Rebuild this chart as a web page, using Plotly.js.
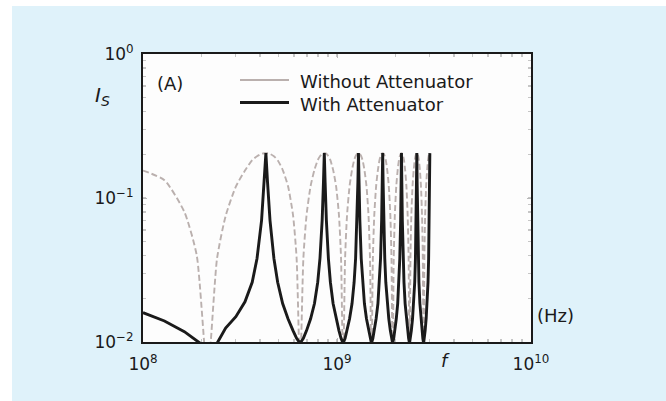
<!DOCTYPE html>
<html>
<head>
<meta charset="utf-8">
<script src="https://cdn.plot.ly/plotly-3.0.1.min.js"></script>
<style>
  html, body { margin: 0; padding: 0; background: #ffffff; }
  #chart { position: absolute; left: 12px; top: 6px; width: 654px; height: 395px; }
</style>
</head>
<body>
<div id="chart"></div>
<script>
// Frequency samples (Hz)
const freq = [
  1.000e8, 1.290e8, 1.634e8, 1.892e8, 2.150e8, 2.408e8, 2.666e8, 3.010e8, 3.354e8, 3.655e8, 3.870e8, 4.085e8, 4.214e8,
  4.300e8, 4.386e8, 4.515e8, 4.730e8, 4.945e8, 5.246e8, 5.590e8, 5.934e8, 6.192e8, 6.450e8, 6.708e8, 6.966e8, 7.310e8, 7.654e8, 7.955e8, 8.170e8, 8.385e8, 8.514e8,
  8.600e8, 8.686e8, 8.815e8, 9.030e8, 9.245e8, 9.546e8, 9.890e8, 1.0234e9, 1.0492e9, 1.0750e9, 1.1008e9, 1.1266e9, 1.1610e9, 1.1954e9, 1.2255e9, 1.2470e9, 1.2685e9, 1.2814e9,
  1.2900e9, 1.2986e9, 1.3115e9, 1.3330e9, 1.3545e9, 1.3846e9, 1.4190e9, 1.4534e9, 1.4792e9, 1.5050e9, 1.5308e9, 1.5566e9, 1.5910e9, 1.6254e9, 1.6555e9, 1.6770e9, 1.6985e9, 1.7114e9,
  1.7200e9, 1.7286e9, 1.7415e9, 1.7630e9, 1.7845e9, 1.8146e9, 1.8490e9, 1.8834e9, 1.9092e9, 1.9350e9, 1.9608e9, 1.9866e9, 2.0210e9, 2.0554e9, 2.0855e9, 2.1070e9, 2.1285e9, 2.1414e9,
  2.1500e9, 2.1586e9, 2.1715e9, 2.1930e9, 2.2145e9, 2.2446e9, 2.2790e9, 2.3134e9, 2.3392e9, 2.3650e9, 2.3908e9, 2.4166e9, 2.4510e9, 2.4854e9, 2.5155e9, 2.5370e9, 2.5585e9, 2.5714e9,
  2.5800e9, 2.5886e9, 2.6015e9, 2.6230e9, 2.6445e9, 2.6746e9, 2.7090e9, 2.7434e9, 2.7692e9, 2.7950e9, 2.8208e9, 2.8466e9, 2.8810e9, 2.9154e9, 2.9455e9, 2.9670e9, 2.9885e9, 3.0014e9,
  3.0100e9
];

// "Without Attenuator" (grey) values
const withoutAtt = [
  0.155, 0.133, 0.080, 0.040, 0.006, 0.038, 0.075, 0.120, 0.155, 0.183, 0.195, 0.2025, 0.2046,
  0.205, 0.2046, 0.2025, 0.195, 0.183, 0.157, 0.121, 0.076, 0.038, 0.006, 0.038, 0.076, 0.121, 0.157, 0.183, 0.195, 0.2025, 0.2046,
  0.205, 0.2046, 0.2025, 0.195, 0.183, 0.157, 0.121, 0.076, 0.038, 0.006, 0.038, 0.076, 0.121, 0.157, 0.183, 0.195, 0.2025, 0.2046,
  0.205, 0.2046, 0.2025, 0.195, 0.183, 0.157, 0.121, 0.076, 0.038, 0.006, 0.038, 0.076, 0.121, 0.157, 0.183, 0.195, 0.2025, 0.2046,
  0.205, 0.2046, 0.2025, 0.195, 0.183, 0.157, 0.121, 0.076, 0.038, 0.006, 0.038, 0.076, 0.121, 0.157, 0.183, 0.195, 0.2025, 0.2046,
  0.205, 0.2046, 0.2025, 0.195, 0.183, 0.157, 0.121, 0.076, 0.038, 0.006, 0.038, 0.076, 0.121, 0.157, 0.183, 0.195, 0.2025, 0.2046,
  0.205, 0.2046, 0.2025, 0.195, 0.183, 0.157, 0.121, 0.076, 0.038, 0.006, 0.038, 0.076, 0.121, 0.157, 0.183, 0.195, 0.2025, 0.2046,
  0.205
];

// "With Attenuator" (black) values
const withAtt = [
  0.0160, 0.0140, 0.0118, 0.0102, 0.0090, 0.0098, 0.0125, 0.0150, 0.0190, 0.026, 0.038, 0.070, 0.128,
  0.205, 0.128, 0.070, 0.038, 0.026, 0.0185, 0.0145, 0.0120, 0.0106, 0.0098, 0.0106, 0.0120, 0.0145, 0.0185, 0.026, 0.038, 0.070, 0.128,
  0.205, 0.128, 0.070, 0.038, 0.026, 0.0185, 0.0145, 0.0120, 0.0106, 0.0098, 0.0106, 0.0120, 0.0145, 0.0185, 0.026, 0.038, 0.070, 0.128,
  0.205, 0.128, 0.070, 0.038, 0.026, 0.0185, 0.0145, 0.0120, 0.0106, 0.0098, 0.0106, 0.0120, 0.0145, 0.0185, 0.026, 0.038, 0.070, 0.128,
  0.205, 0.128, 0.070, 0.038, 0.026, 0.0185, 0.0145, 0.0120, 0.0106, 0.0098, 0.0106, 0.0120, 0.0145, 0.0185, 0.026, 0.038, 0.070, 0.128,
  0.205, 0.128, 0.070, 0.038, 0.026, 0.0185, 0.0145, 0.0120, 0.0106, 0.0098, 0.0106, 0.0120, 0.0145, 0.0185, 0.026, 0.038, 0.070, 0.128,
  0.205, 0.128, 0.070, 0.038, 0.026, 0.0185, 0.0145, 0.0120, 0.0106, 0.0098, 0.0106, 0.0120, 0.0145, 0.0185, 0.026, 0.038, 0.070, 0.128,
  0.205
];

const seriesNames = ["Without Attenuator", "With Attenuator"];
const xTickVals = [1e8, 1e9, 1e10];
const xTickText = ["10<sup>8</sup>", "10<sup>9</sup>", "10<sup>10</sup>"];
const yTickVals = [1e-2, 1e-1, 1e0];
const yTickText = ["10<sup>\u22122</sup>", "10<sup>\u22121</sup>", "10<sup>0</sup>"];

const FONT = "DejaVu Sans, Verdana, sans-serif";
const TXT = "#1a1a1a";
const GREY = "#bab0ae";
const BLACK = "#1a1a1a";

const traces = [
  {
    x: freq, y: withoutAtt, name: seriesNames[0], type: "scatter", mode: "lines",
    line: { color: GREY, width: 1.9, dash: "6px,3px", shape: "spline", smoothing: 0.6 }
  },
  {
    x: freq, y: withAtt, name: seriesNames[1], type: "scatter", mode: "lines",
    line: { color: BLACK, width: 2.9 }
  }
];

const axisCommon = {
  type: "log",
  showgrid: false,
  zeroline: false,
  showline: true,
  linecolor: "#1a1a1a",
  linewidth: 2,
  mirror: "allticks",
  ticks: "inside",
  ticklen: 4,
  tickcolor: "#b8b8b8",
  tickfont: { family: FONT, size: 17, color: TXT },
  minor: { ticks: "inside", ticklen: 3, dtick: "D1", tickcolor: "#c6c6c6", tickwidth: 1.5, showgrid: false }
};

// paper coordinates helpers for plot area (x: 143..531 px, y: 54..342 px)
const px = v => (v - 143) / 388;
const py = v => (342 - v) / 288;

const layout = {
  width: 654, height: 395,
  paper_bgcolor: "#dff2fa",
  plot_bgcolor: "#fdfdfd",
  margin: { l: 131, r: 135, t: 48, b: 59 },
  showlegend: false,
  xaxis: Object.assign({}, axisCommon, {
    range: [8, 10],
    tickmode: "array", tickvals: xTickVals, ticktext: xTickText,
    ticklabelstandoff: 6
  }),
  yaxis: Object.assign({}, axisCommon, {
    range: [-2, 0],
    tickmode: "array", tickvals: yTickVals, ticktext: yTickText,
    ticklabelstandoff: 4
  }),
  shapes: [
    { type: "line", xref: "paper", yref: "paper", x0: px(240), x1: px(289), y0: py(80), y1: py(80),
      line: { color: GREY, width: 2 } },
    { type: "line", xref: "paper", yref: "paper", x0: px(240), x1: px(289), y0: py(102.5), y1: py(102.5),
      line: { color: BLACK, width: 3 } }
  ],
  annotations: [
    { xref: "paper", yref: "paper", x: px(298), y: py(81.5), xanchor: "left", yanchor: "middle",
      text: seriesNames[0], showarrow: false, font: { family: FONT, size: 18, color: TXT } },
    { xref: "paper", yref: "paper", x: px(298), y: py(104), xanchor: "left", yanchor: "middle",
      text: seriesNames[1], showarrow: false, font: { family: FONT, size: 18, color: TXT } },
    { xref: "paper", yref: "paper", x: px(170), y: py(84), xanchor: "center", yanchor: "middle",
      text: "(A)", showarrow: false, font: { family: FONT, size: 18, color: TXT } },
    { xref: "paper", yref: "paper", x: px(102.5), y: py(96), xanchor: "center", yanchor: "middle",
      text: "<i>I<sub>S</sub></i>", showarrow: false, font: { family: FONT, size: 20, color: TXT } },
    { xref: "paper", yref: "paper", x: px(445), y: py(360), xanchor: "center", yanchor: "middle",
      text: "<i>f</i>", showarrow: false, font: { family: FONT, size: 18, color: TXT } },
    { xref: "paper", yref: "paper", x: px(555), y: py(315), xanchor: "center", yanchor: "middle",
      text: "(Hz)", showarrow: false, font: { family: FONT, size: 18, color: TXT } }
  ]
};

Plotly.newPlot("chart", traces, layout, { displayModeBar: false, staticPlot: true });
</script>
</body>
</html>
